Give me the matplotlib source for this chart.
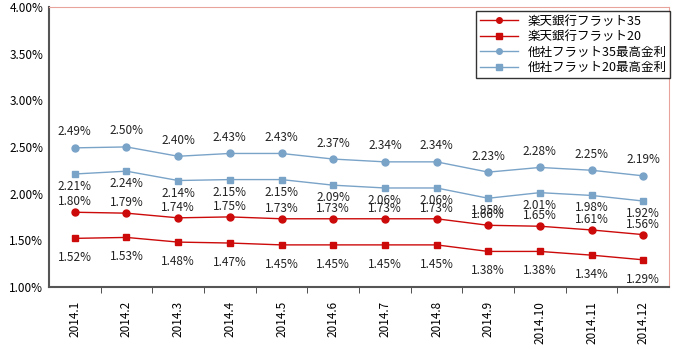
import numpy as np
import matplotlib
matplotlib.use('Agg')
import matplotlib.pyplot as plt

plt.rcParams['font.family'] = ['Noto Sans CJK JP', 'DejaVu Sans']

# data
months = ['2014.1', '2014.2', '2014.3', '2014.4', '2014.5', '2014.6',
          '2014.7', '2014.8', '2014.9', '2014.10', '2014.11', '2014.12']
rakuten35 = [1.80, 1.79, 1.74, 1.75, 1.73, 1.73, 1.73, 1.73, 1.66, 1.65, 1.61, 1.56]
rakuten20 = [1.52, 1.53, 1.48, 1.47, 1.45, 1.45, 1.45, 1.45, 1.38, 1.38, 1.34, 1.29]
other35 = [2.49, 2.50, 2.40, 2.43, 2.43, 2.37, 2.34, 2.34, 2.23, 2.28, 2.25, 2.19]
other20 = [2.21, 2.24, 2.14, 2.15, 2.15, 2.09, 2.06, 2.06, 1.95, 2.01, 1.98, 1.92]

red = '#cc0a0a'
blue = '#7aa3c8'

fig = plt.figure(figsize=(6.8, 3.49), dpi=100)
ax = fig.add_axes([0.072, 0.178, 0.912, 0.802])

x = np.arange(len(months))
ax.plot(x, rakuten35, '-o', color=red, ms=5, lw=1.0, label='楽天銀行フラット35')
ax.plot(x, rakuten20, '-s', color=red, ms=5, lw=1.0, label='楽天銀行フラット20')
ax.plot(x, other35, '-o', color=blue, ms=5, lw=1.0, label='他社フラット35最高金利')
ax.plot(x, other20, '-s', color=blue, ms=5, lw=1.0, label='他社フラット20最高金利')

# data labels: above for 35-year series, below for 20-year series
for ys, off in [(other35, 11.5), (other20, -9), (rakuten35, 7.5), (rakuten20, -14)]:
    for xi, yi in zip(x, ys):
        ax.annotate('%.2f%%' % yi, (xi, yi), xytext=(0, off), textcoords='offset points',
                    ha='center', va='center', fontsize=8.5, color='#222222')

ax.set_xlim(-0.5, len(months) - 0.5)
ax.set_ylim(1.0, 4.0)
ax.set_yticks(np.arange(1.0, 4.01, 0.5))
ax.set_yticklabels(['%.2f%%' % v for v in np.arange(1.0, 4.01, 0.5)], fontsize=8.5)
ax.set_xticks(x)
ax.set_xticklabels(months, rotation=90, fontsize=8.5)
ax.tick_params(axis='x', length=0, pad=10)
ax.set_xticks(np.arange(0.5, len(months) - 0.5), minor=True)
ax.tick_params(axis='x', which='minor', length=4, direction='out', color='#333333')
ax.tick_params(axis='y', length=0, pad=4)

for s in ['top', 'right']:
    ax.spines[s].set_color('#e8a49c')
for s in ['left', 'bottom']:
    ax.spines[s].set_color('#555555')
    ax.spines[s].set_linewidth(1.5)

leg = ax.legend(loc='upper right', bbox_to_anchor=(1.006, 0.995), fontsize=9,
                frameon=True, fancybox=False, handlelength=3, borderpad=0.3,
                labelspacing=0.2, borderaxespad=0.2)
leg.get_frame().set_edgecolor('black')
leg.get_frame().set_linewidth(1.0)
for h in leg.legend_handles:
    h.set_markersize(4)

plt.savefig('out.png', dpi=100)
